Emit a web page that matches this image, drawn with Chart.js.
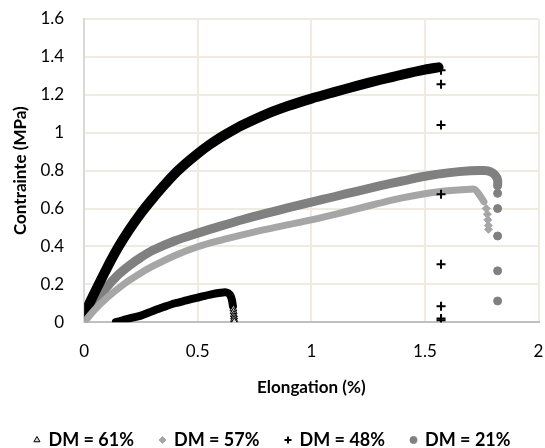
<!DOCTYPE html>
<html>
<head>
<meta charset="utf-8">
<script src="https://cdn.jsdelivr.net/npm/chart.js@4/dist/chart.umd.min.js"></script>
<style>
  html, body { margin: 0; padding: 0; background: #fff; }
  #wrap { width: 545px; height: 448px; }
</style>
</head>
<body>
<div id="wrap"><canvas id="chart" width="545" height="448"></canvas></div>
<script>
// series labels
var labels = ["DM = 61%", "DM = 57%", "DM = 48%", "DM = 21%"];

// DM = 61% curve + drop
var x61 = [0.14, 0.17, 0.2, 0.25, 0.3, 0.35, 0.4, 0.45, 0.5, 0.55, 0.6, 0.625, 0.642, 0.65, 0.655];
var y61 = [0.0, 0.01, 0.02, 0.035, 0.058, 0.08, 0.1, 0.115, 0.13, 0.144, 0.155, 0.157, 0.145, 0.12, 0.085];
var x61tail = [0.657, 0.658, 0.659, 0.66, 0.66, 0.661];
var y61tail = [0.07, 0.055, 0.04, 0.028, 0.015, 0.003];

// DM = 57%
var x57 = [0, 0.05, 0.1, 0.15, 0.2, 0.25, 0.3, 0.4, 0.5, 0.6, 0.7, 0.8, 0.9, 1.0, 1.1, 1.2, 1.3, 1.4, 1.5, 1.6, 1.7, 1.72, 1.74, 1.76];
var y57 = [0, 0.07, 0.128, 0.178, 0.222, 0.26, 0.294, 0.352, 0.398, 0.432, 0.462, 0.49, 0.515, 0.54, 0.568, 0.598, 0.628, 0.656, 0.678, 0.694, 0.702, 0.7, 0.672, 0.635];
var x57tail = [1.77, 1.775, 1.777, 1.779, 1.78];
var y57tail = [0.6, 0.57, 0.54, 0.51, 0.49];

// DM = 48%
var x48 = [0, 0.05, 0.1, 0.15, 0.2, 0.25, 0.3, 0.35, 0.4, 0.45, 0.5, 0.55, 0.6, 0.65, 0.7, 0.8, 0.9, 1.0, 1.1, 1.2, 1.3, 1.4, 1.5, 1.56];
var y48 = [0.04, 0.165, 0.285, 0.395, 0.49, 0.575, 0.65, 0.72, 0.785, 0.84, 0.89, 0.935, 0.975, 1.01, 1.042, 1.097, 1.142, 1.18, 1.214, 1.247, 1.278, 1.307, 1.333, 1.345];
var x48tail = [1.571, 1.571, 1.571, 1.571, 1.571, 1.571, 1.571, 1.571];
var y48tail = [1.33, 1.256, 1.04, 0.675, 0.306, 0.084, 0.02, 0.01];

// DM = 21%
var x21 = [0, 0.05, 0.1, 0.15, 0.2, 0.25, 0.3, 0.4, 0.5, 0.6, 0.7, 0.8, 0.9, 1.0, 1.1, 1.2, 1.3, 1.4, 1.5, 1.6, 1.7, 1.76, 1.79, 1.81, 1.82, 1.82];
var y21 = [0.01, 0.105, 0.185, 0.25, 0.3, 0.342, 0.378, 0.43, 0.47, 0.507, 0.542, 0.574, 0.604, 0.633, 0.662, 0.691, 0.719, 0.745, 0.77, 0.788, 0.799, 0.8, 0.793, 0.775, 0.75, 0.72];
var x21tail = [1.82, 1.82, 1.82, 1.82, 1.82];
var y21tail = [0.68, 0.6, 0.455, 0.271, 0.112];

// tick labels
var xTickLabels = ["0", "0.5", "1", "1.5", "2"];
var yTickLabels = ["0", "0.2", "0.4", "0.6", "0.8", "1", "1.2", "1.4", "1.6"];

function pts(xs, ys) {
  return xs.map(function (x, i) { return { x: x, y: ys[i] }; });
}

var font = "Lato, 'Open Sans', sans-serif";

function curve(xs, ys, color, width) {
  return {
    label: "",
    data: pts(xs, ys),
    showLine: true,
    borderColor: color,
    backgroundColor: color,
    borderWidth: width,
    borderCapStyle: "round",
    borderJoinStyle: "round",
    tension: 0.3,
    pointRadius: 0
  };
}

var ctx = document.getElementById("chart").getContext("2d");
var myChart = new Chart(ctx, {
  type: "scatter",
  data: {
    datasets: [
      {
        label: labels[0],
        data: pts(x61tail, y61tail),
        pointStyle: "triangle",
        pointRadius: 4,
        backgroundColor: "#d9d9d9",
        borderColor: "#000",
        borderWidth: 1
      },
      {
        label: labels[1],
        data: pts(x57tail, y57tail),
        pointStyle: "rectRot",
        pointRadius: 4,
        backgroundColor: "#a6a6a6",
        borderColor: "#a6a6a6",
        borderWidth: 1
      },
      {
        label: labels[2],
        data: pts(x48tail, y48tail),
        pointStyle: "cross",
        pointRadius: 4.5,
        backgroundColor: "#000",
        borderColor: "#000",
        borderWidth: 2
      },
      {
        label: labels[3],
        data: pts(x21tail, y21tail),
        pointStyle: "circle",
        pointRadius: 4,
        backgroundColor: "#808080",
        borderColor: "#808080",
        borderWidth: 1
      },
      curve(x61, y61, "#000", 8),
      curve(x57, y57, "#a6a6a6", 7),
      curve(x48, y48, "#000", 10),
      curve(x21, y21, "#808080", 9)
    ]
  },
  options: {
    responsive: false,
    animation: false,
    layout: { padding: { top: 19, right: 0, left: 0, bottom: -11 } },
    plugins: {
      tooltip: { enabled: false },
      legend: {
        position: "bottom",
        labels: {
          filter: function (item) { return item.text !== ""; },
          usePointStyle: true,
          boxWidth: 5,
          boxHeight: 5,
          padding: 26,
          color: "#000",
          font: { family: font, size: 18, weight: "bold" }
        }
      }
    },
    scales: {
      x: {
        type: "linear",
        min: 0,
        max: 2,
        ticks: {
          stepSize: 0.5,
          color: "#000",
          padding: 0,
          font: { family: font, size: 17 },
          callback: function (v, i) { return xTickLabels[i]; }
        },
        grid: { color: "#efebe0", lineWidth: 2, tickLength: 19, tickColor: "transparent" },
        border: { color: "#bfbfbf", width: 2 },
        title: {
          display: true,
          text: "Elongation (%)",
          color: "#000",
          padding: { top: 16, bottom: 7 },
          font: { family: font, size: 17, weight: "bold" }
        }
      },
      y: {
        type: "linear",
        min: 0,
        max: 1.6,
        ticks: {
          stepSize: 0.2,
          color: "#000",
          padding: 0,
          font: { family: font, size: 17 },
          callback: function (v, i) { return yTickLabels[i]; }
        },
        grid: { color: "#efebe0", lineWidth: 2, tickLength: 20, tickColor: "transparent" },
        border: { color: "#d9d9d9", width: 2 },
        title: {
          display: true,
          text: "Contrainte (MPa)",
          color: "#000",
          padding: 10,
          font: { family: font, size: 17, weight: "bold" }
        }
      }
    }
  }
});
</script>
</body>
</html>
